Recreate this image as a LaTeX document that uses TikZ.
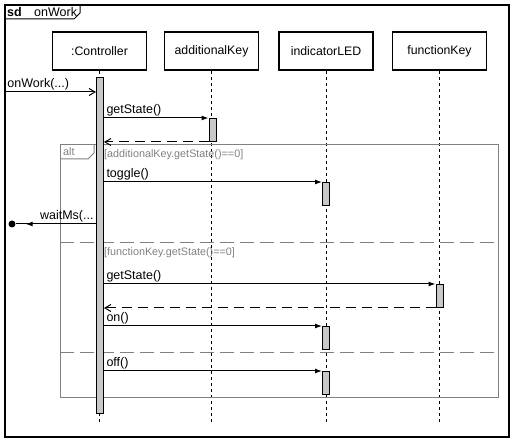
\documentclass[tikz,border=0pt]{standalone}
\usepackage{fontspec}
\setmainfont{Liberation Sans}
\usetikzlibrary{arrows.meta}
\definecolor{fraggray}{RGB}{128,128,128}
\definecolor{barfill}{RGB}{200,200,200}
\tikzset{
  head/.style={draw,line width=1.6pt,minimum width=94pt,minimum height=38pt,inner sep=0pt,font=\fontsize{12.3}{14}\selectfont},
  bar/.style={draw,fill=barfill,line width=1pt,minimum width=7pt,inner sep=0pt,anchor=north},
  lifeline/.style={line width=1pt,dash pattern=on 3pt off 3pt},
  call/.style={line width=1pt,-{Latex[length=7pt,width=5pt]}},
  open/.style={line width=1pt,-{Straight Barb[length=6pt,width=7pt]}},
  reply/.style={line width=1pt,dash pattern=on 10pt off 6pt,-{Straight Barb[length=6pt,width=7pt]}},
  msg/.style={inner xsep=2pt,inner ysep=1pt,font=\fontsize{12.5}{14}\selectfont},
  frag/.style={draw=fraggray,line width=1pt},
  guard/.style={text=fraggray,inner sep=1pt,anchor=west,font=\fontsize{10.8}{12}\selectfont},
  lost/.style={circle,fill=black,inner sep=0pt,minimum size=7pt}
}
\begin{document}
\begin{tikzpicture}[x=1pt,y=-1pt]
\useasboundingbox (0,0) rectangle (517,443);
%Frame
\draw[line width=1.2pt] (5,5) rectangle (509,437);
\draw[line width=1pt] (5,19) -- (74,19) -- (80,13) -- (80,5);
\node[anchor=west,inner sep=1pt,font=\fontsize{12.5}{14}\bfseries] (sd) at (6,12) {sd};
\node[anchor=west,inner sep=1pt,font=\fontsize{12.5}{14}\selectfont] (title) at (33,12) {onWork};
%Lifelines
\node[head] (ctrl) at (99.5,51) {:Controller};
\node[head] (addkey) at (211.5,51) {additionalKey};
\node[head] (led) at (326,51) {indicatorLED};
\node[head] (fkey) at (439.5,51) {functionKey};
\coordinate (bottom) at (0,423);
\foreach \n in {ctrl,addkey,led,fkey}
  \draw[lifeline] (\n.south) -- (\n.south |- bottom);
%Fragment alt
\draw[frag] (60,145) rectangle (498,398);
\draw[frag] (60,159) -- (88,159) -- (94,153) -- (94,145);
\node[guard] (alt) at (62,152) {alt};
\draw[frag,dash pattern=on 14pt off 6pt] (60,243) -- (498,243);
\draw[frag,dash pattern=on 14pt off 6pt] (60,353) -- (498,353);
\node[guard] (g1) at (103,155) {[additionalKey.getState()==0]};
\node[guard] (g2) at (103,253) {[functionKey.getState()==0]};
%Activations
\node[bar,minimum height=336pt] (cbar) at (100,77) {};
\node[bar,minimum height=23pt] (act1) at (212.5,118) {};
\node[bar,minimum height=23pt] (act2) at (326,182) {};
\node[bar,minimum height=23pt] (act3) at (439.5,284) {};
\node[bar,minimum height=23pt] (act4) at (326,326) {};
\node[bar,minimum height=23pt] (act5) at (326,371) {};
%Messages
\coordinate (gate) at (5,92);
\draw[open] (gate) -- (cbar.west |- gate) node[msg,pos=0,anchor=south west] {onWork(...)};
\draw[call] (cbar.east |- act1.north) -- (act1.north west) node[msg,pos=0,anchor=south west] {getState()};
\draw[reply] (act1.south west) -- (cbar.east |- act1.south);
\draw[call] (cbar.east |- act2.north) -- (act2.north west) node[msg,pos=0,anchor=south west] {toggle()};
% lost message
\node[lost] (lostpt) at (12,224) {};
\draw[line width=1pt] (cbar.west |- lostpt) -- (lostpt) node[msg,pos=0,anchor=south east] {waitMs(...};
\draw[call,shorten >=10pt] (cbar.west |- lostpt) -- (lostpt);
\draw[call] (cbar.east |- act3.north) -- (act3.north west) node[msg,pos=0,anchor=south west] {getState()};
\draw[reply] (act3.south west) -- (cbar.east |- act3.south);
\draw[call] (cbar.east |- act4.north) -- (act4.north west) node[msg,pos=0,anchor=south west] {on()};
\draw[call] (cbar.east |- act5.north) -- (act5.north west) node[msg,pos=0,anchor=south west] {off()};
\end{tikzpicture}
\end{document}
